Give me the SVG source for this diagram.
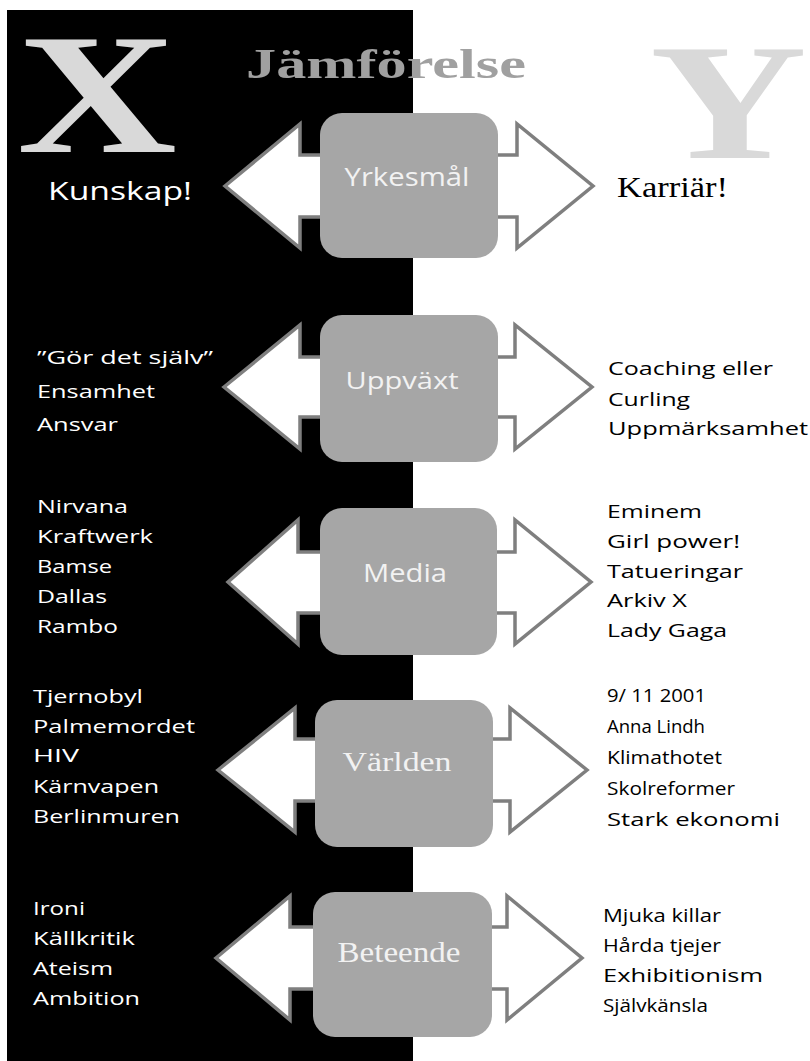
<svg xmlns="http://www.w3.org/2000/svg" width="810" height="1061" viewBox="0 0 810 1061">
<style>
.arrow{fill:#ffffff;stroke:#7f7f7f;stroke-width:3.5;stroke-linejoin:miter}
.box{fill:#a6a6a6}
.blabel{fill:#f2f2f2;font-family:"Open Sans","Noto Sans",sans-serif;text-anchor:middle}
.bserif{fill:#f2f2f2;font-family:"Liberation Serif",serif;text-anchor:middle}
.lt{fill:#ffffff;font-family:"Open Sans","Noto Sans",sans-serif;font-size:19px}
.rt{fill:#000000;font-family:"Open Sans","Noto Sans",sans-serif;font-size:19px}
.big{fill:#d9d9d9;font-family:"Liberation Serif",serif;font-weight:bold}
</style>
<rect x="0" y="0" width="810" height="1061" fill="#ffffff"/>
<rect x="7" y="10" width="406" height="1051" fill="#000000"/>
<g id="title">
<text class="big" x="17" y="152" font-size="172" textLength="160" lengthAdjust="spacingAndGlyphs">X</text>
<text class="big" x="650" y="158" font-size="166" textLength="157" lengthAdjust="spacingAndGlyphs">Y</text>
<text x="246" y="78" font-family="Liberation Serif,serif" font-weight="bold" font-size="42" fill="#a0a0a0" textLength="280" lengthAdjust="spacingAndGlyphs">Jämförelse</text>
</g>
<g id="connectors">
<path class="arrow" d="M225,186 L300,124 L300,155 L517,155 L517,124 L593,186 L517,248 L517,217 L300,217 L300,248 Z"/>
<path class="arrow" d="M224,387 L300,325 L300,357 L515,357 L515,325 L592,387 L515,449 L515,417 L300,417 L300,449 Z"/>
<path class="arrow" d="M228,582 L298,520 L298,552 L515,552 L515,520 L591,582 L515,644 L515,613 L298,613 L298,644 Z"/>
<path class="arrow" d="M218,770 L295,708 L295,739 L510,739 L510,708 L587,770 L510,832 L510,801 L295,801 L295,832 Z"/>
<path class="arrow" d="M216,958 L290,896 L290,927 L507,927 L507,896 L582,958 L507,1020 L507,989 L290,989 L290,1020 Z"/>
</g>
<g id="node-yrkesmal">
<rect class="box" x="320" y="113" width="178" height="145" rx="22"/>
<text class="blabel" x="407" y="186" font-size="26" textLength="125" lengthAdjust="spacingAndGlyphs">Yrkesmål</text>
<text x="48" y="200" fill="#ffffff" font-family="Open Sans,Noto Sans,sans-serif" font-size="25" textLength="144" lengthAdjust="spacingAndGlyphs">Kunskap!</text>
<text x="617" y="197" fill="#000000" font-family="Liberation Serif,serif" font-size="30" textLength="111" lengthAdjust="spacingAndGlyphs">Karriär!</text>
</g>
<g id="node-uppvaxt">
<rect class="box" x="320" y="315" width="178" height="147" rx="22"/>
<text class="blabel" x="402" y="389" font-size="24" textLength="113" lengthAdjust="spacingAndGlyphs">Uppväxt</text>
<text class="lt" x="37" y="364" textLength="176" lengthAdjust="spacingAndGlyphs">”Gör det själv”</text>
<text class="lt" x="37" y="398" textLength="118" lengthAdjust="spacingAndGlyphs">Ensamhet</text>
<text class="lt" x="37" y="431" textLength="81" lengthAdjust="spacingAndGlyphs">Ansvar</text>
<text class="rt" x="608" y="375" textLength="165" lengthAdjust="spacingAndGlyphs">Coaching eller</text>
<text class="rt" x="608" y="406" textLength="82" lengthAdjust="spacingAndGlyphs">Curling</text>
<text class="rt" x="608" y="435" textLength="200" lengthAdjust="spacingAndGlyphs">Uppmärksamhet</text>
</g>
<g id="node-media">
<rect class="box" x="320" y="508" width="177" height="147" rx="22"/>
<text class="blabel" x="405" y="582" font-size="26" textLength="84" lengthAdjust="spacingAndGlyphs">Media</text>
<text class="lt" x="37" y="513" textLength="91" lengthAdjust="spacingAndGlyphs">Nirvana</text>
<text class="lt" x="37" y="543" textLength="116" lengthAdjust="spacingAndGlyphs">Kraftwerk</text>
<text class="lt" x="37" y="573" textLength="75" lengthAdjust="spacingAndGlyphs">Bamse</text>
<text class="lt" x="37" y="603" textLength="70" lengthAdjust="spacingAndGlyphs">Dallas</text>
<text class="lt" x="37" y="633" textLength="81" lengthAdjust="spacingAndGlyphs">Rambo</text>
<text class="rt" x="607" y="518" textLength="95" lengthAdjust="spacingAndGlyphs">Eminem</text>
<text class="rt" x="607" y="548" textLength="133" lengthAdjust="spacingAndGlyphs">Girl power!</text>
<text class="rt" x="607" y="578" textLength="136" lengthAdjust="spacingAndGlyphs">Tatueringar</text>
<text class="rt" x="607" y="607" textLength="80" lengthAdjust="spacingAndGlyphs">Arkiv X</text>
<text class="rt" x="607" y="637" textLength="120" lengthAdjust="spacingAndGlyphs">Lady Gaga</text>
</g>
<g id="node-varlden">
<rect class="box" x="315" y="700" width="178" height="147" rx="22"/>
<text class="bserif" x="397" y="771" font-size="28" textLength="109" lengthAdjust="spacingAndGlyphs">Världen</text>
<text class="lt" x="33" y="703" textLength="110" lengthAdjust="spacingAndGlyphs">Tjernobyl</text>
<text class="lt" x="33" y="733" textLength="162" lengthAdjust="spacingAndGlyphs">Palmemordet</text>
<text class="lt" x="33" y="762" textLength="46" lengthAdjust="spacingAndGlyphs">HIV</text>
<text class="lt" x="33" y="793" textLength="126" lengthAdjust="spacingAndGlyphs">Kärnvapen</text>
<text class="lt" x="33" y="823" textLength="147" lengthAdjust="spacingAndGlyphs">Berlinmuren</text>
<text class="rt" x="607" y="702" textLength="99" lengthAdjust="spacingAndGlyphs">9/ 11 2001</text>
<text class="rt" x="607" y="733" textLength="98" lengthAdjust="spacingAndGlyphs">Anna Lindh</text>
<text class="rt" x="607" y="764" textLength="115" lengthAdjust="spacingAndGlyphs">Klimathotet</text>
<text class="rt" x="607" y="795" textLength="128" lengthAdjust="spacingAndGlyphs">Skolreformer</text>
<text class="rt" x="607" y="826" textLength="173" lengthAdjust="spacingAndGlyphs">Stark ekonomi</text>
</g>
<g id="node-beteende">
<rect class="box" x="313" y="892" width="179" height="145" rx="22"/>
<text class="bserif" x="399" y="962" font-size="29" textLength="123" lengthAdjust="spacingAndGlyphs">Beteende</text>
<text class="lt" x="33" y="915" textLength="52" lengthAdjust="spacingAndGlyphs">Ironi</text>
<text class="lt" x="33" y="945" textLength="102" lengthAdjust="spacingAndGlyphs">Källkritik</text>
<text class="lt" x="33" y="975" textLength="80" lengthAdjust="spacingAndGlyphs">Ateism</text>
<text class="lt" x="33" y="1005" textLength="107" lengthAdjust="spacingAndGlyphs">Ambition</text>
<text class="rt" x="603" y="922" textLength="118" lengthAdjust="spacingAndGlyphs">Mjuka killar</text>
<text class="rt" x="603" y="952" textLength="118" lengthAdjust="spacingAndGlyphs">Hårda tjejer</text>
<text class="rt" x="603" y="982" textLength="160" lengthAdjust="spacingAndGlyphs">Exhibitionism</text>
<text class="rt" x="603" y="1012" textLength="105" lengthAdjust="spacingAndGlyphs">Självkänsla</text>
</g>
</svg>
